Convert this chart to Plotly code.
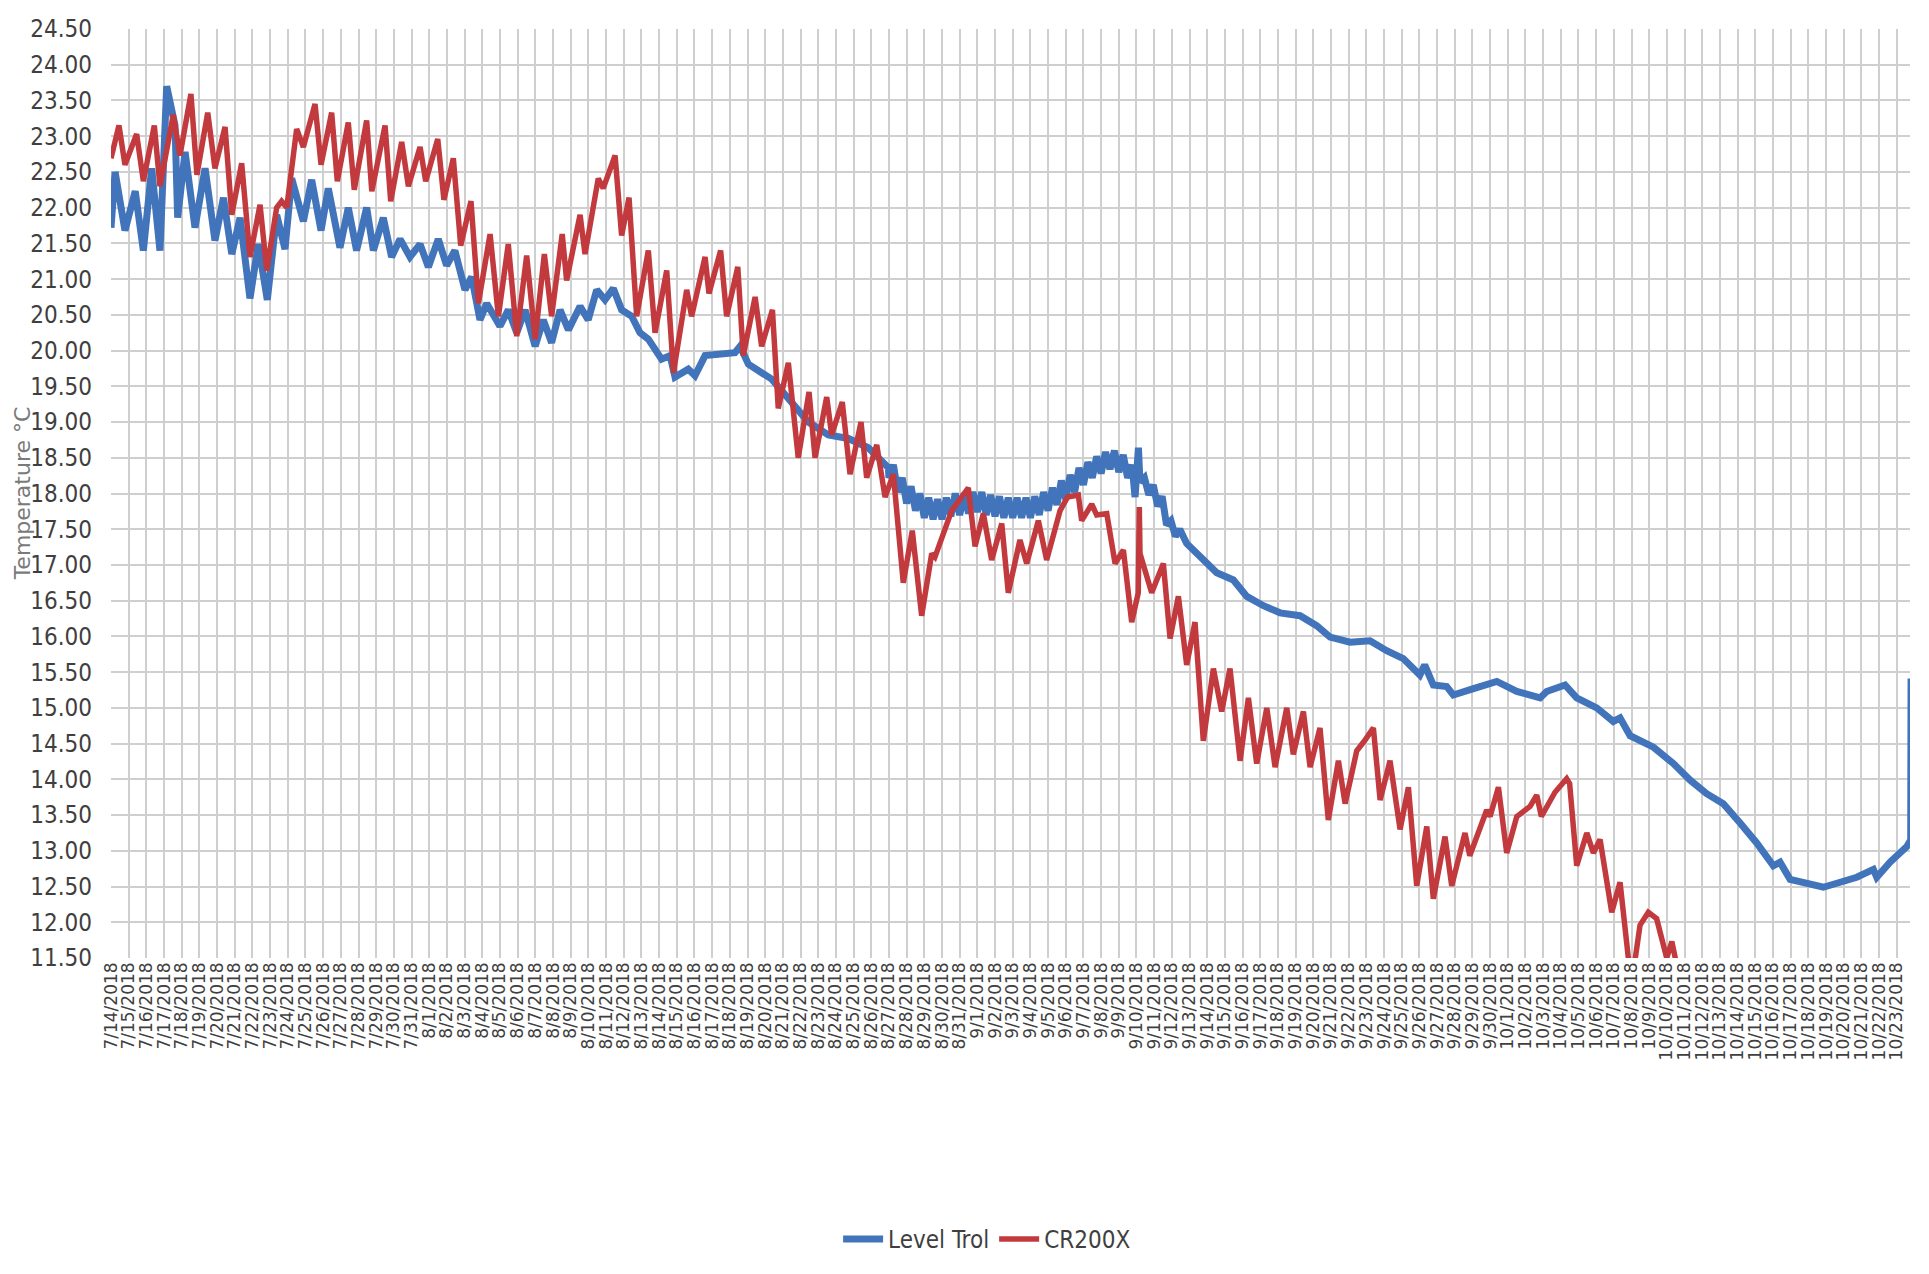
import pandas as pd
import plotly.graph_objects as go

# Logger records, time given in days elapsed since 14 July 2018 00:00
START = pd.Timestamp("2018-07-14")

level_trol_days = [
    0.00, 0.23, 0.79, 1.37, 1.83, 2.30, 2.77, 3.15, 3.62, 3.77, 4.19, 4.75, 5.32, 5.88,
    6.36, 6.83, 7.30, 7.86, 8.33, 8.84, 9.37, 9.84, 10.22, 10.88, 11.35, 11.88, 12.29,
    12.95, 13.42, 13.89, 14.46, 14.84, 15.40, 15.87, 16.35, 16.91, 17.48, 17.95, 18.51,
    18.98, 19.45, 20.02, 20.40, 20.87, 21.25, 22.00, 22.47, 22.95, 23.42, 23.99, 24.45,
    24.92, 25.40, 25.87, 26.53, 26.99, 27.47, 27.94, 28.41, 28.88, 29.45, 29.92, 30.39,
    31.14, 31.62, 31.90, 32.65, 33.03, 33.60, 34.54, 35.29, 35.58, 36.05, 36.80, 37.37,
    38.31, 39.44, 40.57, 41.70, 42.83, 43.97,
    44.00, 44.25, 44.50, 44.75, 45.00, 45.25, 45.50, 45.75, 46.00, 46.25, 46.50, 46.75,
    47.00, 47.25, 47.50, 47.75, 48.00, 48.25, 48.50, 48.75, 49.00, 49.25, 49.50, 49.75,
    50.00, 50.25, 50.50, 50.75, 51.00, 51.25, 51.50, 51.75, 52.00, 52.25, 52.50, 52.75,
    53.00, 53.25, 53.50, 53.75, 54.00, 54.25, 54.50, 54.75, 55.00, 55.25, 55.50, 55.75,
    56.00, 56.25, 56.50, 56.75, 57.00, 57.25, 57.50, 57.75, 57.92, 58.05, 58.11, 58.20,
    58.45, 58.70, 58.95, 59.20, 59.45, 59.70, 59.95, 60.20, 60.45, 60.84, 61.59, 62.54,
    63.48, 64.24, 65.18, 66.12, 67.25, 68.19, 68.95, 70.08, 71.21, 72.15, 73.09, 74.03,
    74.30, 74.79, 75.54, 75.92, 77.06, 78.38, 79.51, 80.83, 81.20, 82.24, 82.90, 84.03,
    84.97, 85.35, 85.92, 87.24, 88.37, 89.31, 90.25, 91.19, 92.14, 93.08, 94.02, 94.40,
    94.97, 95.91, 96.85, 97.80, 98.74, 99.68, 99.87, 100.62, 101.57, 101.79, 101.81,
]
level_trol_temp = [
    21.72, 22.50, 21.68, 22.23, 21.40, 22.55, 21.40, 23.70, 23.15, 21.86, 22.78, 21.72, 22.55, 21.54,
    22.14, 21.35, 21.86, 20.73, 21.49, 20.71, 21.90, 21.42, 22.41, 21.81, 22.39, 21.68, 22.27,
    21.44, 22.00, 21.40, 22.00, 21.40, 21.86, 21.31, 21.56, 21.31, 21.49, 21.17, 21.56,
    21.19, 21.40, 20.85, 21.03, 20.43, 20.66, 20.34, 20.57, 20.25, 20.57, 20.06, 20.43,
    20.11, 20.57, 20.29, 20.62, 20.43, 20.85, 20.71, 20.87, 20.57, 20.48, 20.25, 20.16,
    19.88, 19.93, 19.63, 19.74, 19.65, 19.93, 19.95, 19.97, 20.06, 19.81, 19.69, 19.60,
    19.33, 19.00, 18.82, 18.77, 18.64, 18.36,
    18.22, 18.40, 18.02, 18.22, 17.86, 18.10, 17.76, 18.00, 17.66, 17.94, 17.64, 17.92,
    17.64, 17.94, 17.68, 18.00, 17.70, 18.00, 17.72, 18.02, 17.74, 18.02, 17.70, 17.98,
    17.68, 17.96, 17.66, 17.94, 17.66, 17.94, 17.66, 17.94, 17.66, 17.96, 17.70, 18.02,
    17.76, 18.08, 17.84, 18.18, 17.92, 18.26, 18.02, 18.36, 18.12, 18.44, 18.22, 18.52,
    18.28, 18.58, 18.34, 18.60, 18.30, 18.54, 18.22, 18.40, 17.95, 18.30, 18.64, 18.16,
    18.22, 17.98, 18.12, 17.82, 17.96, 17.56, 17.62, 17.40, 17.50, 17.30, 17.12, 16.89,
    16.79, 16.56, 16.43, 16.33, 16.29, 16.15, 15.99, 15.92, 15.94, 15.80, 15.69, 15.46,
    15.60, 15.32, 15.30, 15.18, 15.27, 15.37, 15.23, 15.14, 15.23, 15.32, 15.14, 15.00,
    14.81, 14.86, 14.61, 14.45, 14.22, 13.99, 13.80, 13.66, 13.39, 13.11, 12.79, 12.84,
    12.60, 12.54, 12.49, 12.56, 12.63, 12.74, 12.63, 12.84, 13.06, 13.15, 15.41,
]

cr200x_days = [
    0.00, 0.45, 0.79, 1.45, 1.83, 2.45, 2.77, 3.52, 3.90, 4.52, 4.86, 5.47, 5.88, 6.45,
    6.83, 7.39, 7.86, 8.43, 8.81, 9.37, 9.65, 9.94, 10.50, 10.88, 11.54, 11.88, 12.48,
    12.80, 13.42, 13.76, 14.46, 14.75, 15.50, 15.82, 16.44, 16.82, 17.48, 17.80, 18.48,
    18.83, 19.36, 19.78, 20.36, 20.78, 21.44, 21.91, 22.47, 22.95, 23.51, 23.99, 24.51,
    24.92, 25.52, 25.77, 26.53, 26.81, 27.56, 27.84, 28.51, 28.88, 29.30, 29.73, 30.39,
    30.77, 31.43, 31.81, 32.56, 32.84, 33.60, 33.82, 34.48, 34.82, 35.45, 35.76, 36.43,
    36.80, 37.41, 37.74, 38.31, 38.87, 39.48, 39.82, 40.48, 40.76, 41.36, 41.80, 42.42,
    42.74, 43.31, 43.78, 44.25, 44.81, 45.32, 45.85, 46.42, 46.60, 47.55, 48.49, 48.87,
    49.34, 49.81, 50.38, 50.75, 51.41, 51.79, 52.45, 52.92, 53.68, 54.10, 54.71, 54.90,
    55.47, 55.75, 56.32, 56.79, 57.26, 57.73, 58.10, 58.16, 58.20, 58.86, 59.52, 59.90,
    60.37, 60.84, 61.31, 61.78, 62.35, 62.82, 63.29, 63.86, 64.33, 64.80, 65.37, 65.84,
    66.50, 66.87, 67.44, 67.82, 68.38, 68.85, 69.42, 69.80, 70.46, 70.90, 71.40, 71.78,
    72.34, 72.91, 73.38, 73.85, 74.42, 74.79, 75.45, 75.83, 76.58, 76.85, 77.81, 78.00,
    78.47, 78.94, 79.51, 80.26, 80.64, 80.90, 81.67, 82.33, 82.50, 82.90, 83.47, 83.84,
    84.22, 84.88, 85.35, 85.82, 86.10, 86.48, 86.95, 87.42, 87.99, 88.28, 88.60,
]
cr200x_temp = [
    22.69, 23.15, 22.60, 23.03, 22.37, 23.15, 22.30, 23.30, 22.73, 23.59, 22.46, 23.33, 22.55, 23.13,
    21.90, 22.62, 21.31, 22.04, 21.12, 22.00, 22.09, 22.00, 23.10, 22.85, 23.45, 22.60, 23.33,
    22.37, 23.19, 22.25, 23.22, 22.23, 23.15, 22.09, 22.92, 22.30, 22.85, 22.37, 22.96,
    22.11, 22.69, 21.47, 22.09, 20.66, 21.63, 20.48, 21.49, 20.20, 21.33, 20.16, 21.35,
    20.48, 21.63, 20.98, 21.90, 21.35, 22.41, 22.27, 22.73, 21.61, 22.14, 20.48, 21.40,
    20.25, 21.12, 19.69, 20.85, 20.48, 21.31, 20.80, 21.40, 20.48, 21.17, 19.93, 20.75,
    20.06, 20.57, 19.19, 19.83, 18.50, 19.42, 18.50, 19.35, 18.82, 19.28, 18.27, 19.00,
    18.22, 18.68, 17.95, 18.27, 16.75, 17.48, 16.29, 17.16, 17.11, 17.76, 18.08, 17.26,
    17.72, 17.07, 17.58, 16.61, 17.35, 17.02, 17.62, 17.07, 17.76, 17.95, 17.98, 17.62,
    17.85, 17.70, 17.72, 17.02, 17.21, 16.20, 16.61, 17.81, 17.16, 16.61, 17.02, 15.97,
    16.56, 15.60, 16.20, 14.54, 15.55, 14.95, 15.55, 14.26, 15.14, 14.22, 15.00, 14.17,
    15.00, 14.35, 14.95, 14.17, 14.72, 13.43, 14.26, 13.66, 14.40, 14.54, 14.72, 13.71,
    14.26, 13.30, 13.89, 12.51, 13.34, 12.33, 13.20, 12.51, 13.25, 12.93, 13.57, 13.48,
    13.89, 12.97, 13.48, 13.62, 13.78, 13.48, 13.82, 14.01, 13.94, 12.79, 13.25, 12.97,
    13.16, 12.14, 12.56, 11.50, 11.30, 11.96, 12.14, 12.05, 11.50, 11.73, 11.35,
]

series_names = ["Level Trol", "CR200X"]
series_colors = ["#4174BA", "#C23A3E"]

Y_MIN, Y_MAX, Y_STEP = 11.5, 24.5, 0.5
X_END_DAYS = 101.75


def to_time(days):
    return START + pd.to_timedelta(days, unit="D")


fig = go.Figure()
fig.add_trace(go.Scatter(
    x=to_time(level_trol_days), y=level_trol_temp, mode="lines",
    name=series_names[0], line=dict(color=series_colors[0], width=7),
))
fig.add_trace(go.Scatter(
    x=to_time(cr200x_days), y=cr200x_temp, mode="lines",
    name=series_names[1], line=dict(color=series_colors[1], width=5.5),
))

grid = "#cfcfcf"
fig.update_xaxes(
    type="date",
    range=[START, to_time(X_END_DAYS)],
    tick0=START, dtick=86400000,
    tickformat="%-m/%-d/%Y", tickangle=-90,
    tickfont=dict(family="DejaVu Sans", size=17, color="#3f3f3f"),
    showgrid=True, gridcolor=grid, gridwidth=1.5,
    showline=False, zeroline=False, ticks="",
)
fig.update_yaxes(
    range=[Y_MIN, Y_MAX], tick0=Y_MIN, dtick=Y_STEP, tickformat=".2f",
    tickfont=dict(family="Liberation Sans Narrow, DejaVu Sans Condensed, sans-serif",
                  size=24, color="#3f3f3f"),
    ticklabelstandoff=18,
    showgrid=True, gridcolor=grid, gridwidth=1.5,
    showline=False, zeroline=False, ticks="",
)

fig.add_annotation(
    text="Temperature °C", textangle=-90,
    xref="paper", yref="paper", x=-0.049, y=0.5,
    xanchor="center", yanchor="middle", showarrow=False,
    font=dict(family="DejaVu Sans", size=22, color="#7a7a7a"),
)

fig.update_layout(
    width=1929, height=1274,
    margin=dict(l=111, r=19, t=29, b=304),
    paper_bgcolor="white", plot_bgcolor="white",
    showlegend=True,
    legend=dict(
        orientation="h", x=0.487, xanchor="center", y=-0.303, yanchor="middle",
        font=dict(family="Liberation Sans Narrow, DejaVu Sans Condensed, sans-serif",
                  size=24, color="#3f3f3f"),
        itemwidth=40,
    ),
)

fig.write_html("out.html")
